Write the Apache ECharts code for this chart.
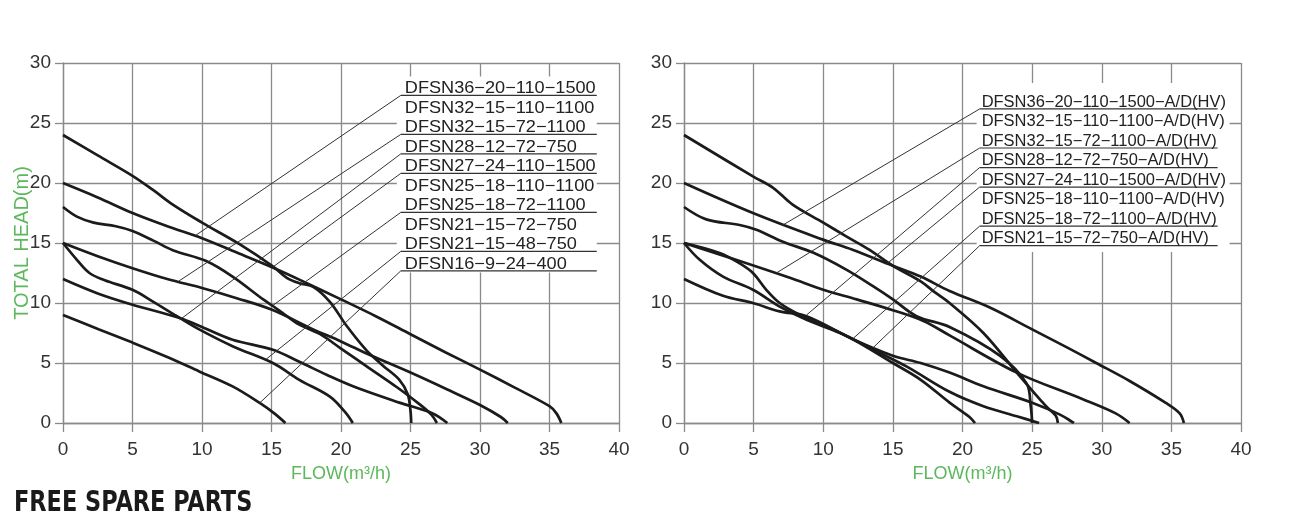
<!DOCTYPE html>
<html>
<head>
<meta charset="utf-8">
<script src="https://cdn.jsdelivr.net/npm/echarts@6/dist/echarts.min.js"></script>
<style>
html, body { margin: 0; padding: 0; background: #fff; }
#main { width: 1301px; height: 515px; }
</style>
</head>
<body>
<div id="main"></div>
<script>
// axis ticks
var flowTicks = [0, 40, 5];
var headTicks = [0, 30, 5];

// left chart curves: [flow, head]
var left36 = [[0,20],[2.5,18.8],[5,17.5],[7.5,16.4],[10,15.4],[12.5,14.2],[15,13.0],[17,11.95],[20,10.3],[22.5,8.9],[25,7.4],[27.5,5.9],[30,4.45],[32.5,2.95],[35,1.4],[35.5,0.8],[35.85,0]];
var left27 = [[0,24],[2.5,22.3],[5,20.6],[6.5,19.4],[7.9,18.2],[10,16.7],[12.7,14.9],[15.1,13.05],[16.1,12.1],[17,11.65],[18,11.35],[19.2,10.1],[20.4,8.1],[21.8,6.1],[23,4.8],[24.2,3.6],[24.8,2.4],[25,1],[25.05,0]];
var left25 = [[0,18],[1,17.2],[2.2,16.7],[3.8,16.4],[5,16],[6.5,15.2],[7.9,14.4],[10.3,13.5],[12.2,12.2],[14.4,10.3],[15.1,9.75],[16,9.0],[17,8.2],[18.5,7.4],[20,6.2],[22,4.6],[24,3.0],[25.5,1.7],[26.5,0.7],[26.9,0]];
var left32 = [[0,15],[2.5,13.9],[5,12.9],[7.5,12.0],[10,11.25],[12.5,10.4],[15,9.45],[18,7.8],[20,6.8],[22,5.7],[25,4.2],[28,2.6],[30,1.5],[31.5,0.5],[32,0]];
var left28 = [[0,12],[2.5,10.8],[5,9.86],[8.4,8.75],[10,8.0],[12.2,6.94],[15.1,6.1],[17,5.1],[19,4.0],[21,3.0],[24.2,1.7],[26.6,0.8],[27.65,0]];
var left21 = [[0,15],[1,13.6],[1.9,12.5],[3,11.9],[5,11.1],[6.5,10.1],[8.2,8.9],[9.8,7.8],[12.2,6.4],[15.1,5.0],[17,3.6],[19.2,2.2],[20.3,0.9],[20.85,0]];
var left16 = [[0,9],[2.6,7.8],[5,6.7],[7.5,5.5],[9.8,4.3],[12.2,3.05],[14.15,1.67],[15.2,0.8],[16,0]];

// right chart curves
var right36 = [[0,20],[4.95,17.5],[9.98,15.28],[12.1,14.44],[15,13.1],[17,12.2],[19.07,11.0],[22,9.6],[25,7.8],[27.5,6.3],[29.6,5.0],[32,3.5],[34.6,1.67],[35.6,0.8],[35.9,0]];
var right27 = [[0,24],[4.95,20.55],[6.4,19.6],[7.8,18.2],[10,16.7],[11.65,15.55],[13.3,14.44],[15,13.1],[17,11.8],[18,10.9],[19.07,10],[21.5,7.5],[23.9,4.2],[26,1.4],[26.7,0.6],[26.85,0]];
var right25 = [[0,18],[1.6,16.97],[4.0,16.5],[5.2,16.1],[7.1,15.1],[9.26,14.2],[11.65,12.78],[13.57,11.4],[15,10.3],[16.7,8.9],[19.07,8.0],[22.7,5.6],[24.6,3.3],[24.9,1.4],[25,0]];
var right32 = [[0,15],[4,13.5],[7.6,12.1],[10,11.1],[12.4,10.3],[15,9.4],[17.2,8.5],[19.07,7.3],[23.9,4.2],[28.6,2.0],[31,0.8],[32,0]];
var right28 = [[0,12],[2.8,10.6],[4.95,10.0],[6.87,9.3],[8.8,8.9],[12.1,7.0],[15,5.6],[17,5.0],[19.07,4.2],[21.5,3.06],[25.05,1.67],[27,0.7],[28,0]];
var right25b = [[0,15],[1.13,13.6],[2.8,12.2],[4.95,11.1],[6.87,9.7],[8.8,8.6],[11.2,7.5],[13.6,6.1],[16,4.7],[19.07,2.6],[21.5,1.4],[23.9,0.56],[25.5,0]];
var right21 = [[0,15],[2.56,14.17],[4,13.3],[4.95,12.5],[5.91,11.1],[6.87,10.0],[8.3,9.03],[10.2,8.06],[12.1,7.0],[15,5.0],[17,3.6],[19.07,1.7],[20.5,0.5],[20.9,0]];

// model labels and where their leader line meets a curve (null = no leader)
var leftLabels = ['DFSN36\u221220\u2212110\u22121500','DFSN32\u221215\u2212110\u22121100','DFSN32\u221215\u221272\u22121100','DFSN28\u221212\u221272\u2212750','DFSN27\u221224\u2212110\u22121500','DFSN25\u221218\u2212110\u22121100','DFSN25\u221218\u221272\u22121100','DFSN21\u221215\u221272\u2212750','DFSN21\u221215\u221248\u2212750','DFSN16\u22129\u221224\u2212400'];
var leftTargets = [[9.5,15.6], null, [8.3,11.8], [8.4,8.6], [15.1,13.0], null, [15.1,9.8], null, [14.6,5.3], [14.15,1.67]];
var rightLabels = ['DFSN36\u221220\u2212110\u22121500\u2212A/D(HV)','DFSN32\u221215\u2212110\u22121100\u2212A/D(HV)','DFSN32\u221215\u221272\u22121100\u2212A/D(HV)','DFSN28\u221212\u221272\u2212750\u2212A/D(HV)','DFSN27\u221224\u2212110\u22121500\u2212A/D(HV)','DFSN25\u221218\u2212110\u22121100\u2212A/D(HV)','DFSN25\u221218\u221272\u22121100\u2212A/D(HV)','DFSN21\u221215\u221272\u2212750\u2212A/D(HV)'];
var rightTargets = [[7.1,16.5], null, [6.63,12.5], [8.8,9.0], [14.6,13.3], null, [12.1,7.0], [13.6,6.3]];

var leftCurves = [left36, left27, left25, left32, left28, left21, left16];
var rightCurves = [right36, right27, right25, right32, right28, right25b, right21];

var GREEN = '#5cb85c';
var GRIDC = '#8a8a8a';
var FONT = '"Liberation Sans", Arial, sans-serif';

function xAxisFor(gi) {
  return {
    type: 'value', gridIndex: gi, min: flowTicks[0], max: flowTicks[1], interval: flowTicks[2],
    name: 'FLOW(m\u00b3/h)', nameLocation: 'middle', nameGap: 42,
    nameTextStyle: { color: GREEN, fontSize: 18, fontFamily: FONT },
    axisLine: { show: true, lineStyle: { color: GRIDC, width: 1.3 } },
    axisTick: { show: true, length: 9, lineStyle: { color: GRIDC, width: 1.3 } },
    splitLine: { show: true, lineStyle: { color: GRIDC, width: 1.3 } },
    axisLabel: { color: '#333', fontSize: 19, fontFamily: FONT, margin: 17 }
  };
}
function yAxisFor(gi, withName) {
  return {
    type: 'value', gridIndex: gi, min: headTicks[0], max: headTicks[1], interval: headTicks[2],
    name: withName ? 'TOTAL HEAD(m)' : '', nameLocation: 'middle', nameGap: 31,
    nameMoveOverlap: false,
    nameTextStyle: { color: GREEN, fontSize: 20, fontFamily: FONT },
    axisLine: { show: true, lineStyle: { color: GRIDC, width: 1.3 } },
    axisTick: { show: true, length: 8, lineStyle: { color: GRIDC, width: 1.3 } },
    splitLine: { show: true, lineStyle: { color: GRIDC, width: 1.3 } },
    axisLabel: { color: '#333', fontSize: 19, fontFamily: FONT, margin: 12 }
  };
}

var series = [];
leftCurves.forEach(function (c) {
  series.push({ type: 'line', xAxisIndex: 0, yAxisIndex: 0, data: c, smooth: 0.35, symbol: 'none',
    lineStyle: { color: '#1b1b1b', width: 2.7 }, z: 3 });
});
rightCurves.forEach(function (c) {
  series.push({ type: 'line', xAxisIndex: 1, yAxisIndex: 1, data: c, smooth: 0.35, symbol: 'none',
    lineStyle: { color: '#1b1b1b', width: 2.7 }, z: 3 });
});

var option = {
  backgroundColor: '#fff',
  animation: false,
  grid: [
    { left: 63, top: 63, width: 556, height: 360 },
    { left: 684, top: 63, width: 557, height: 360 }
  ],
  xAxis: [xAxisFor(0), xAxisFor(1)],
  yAxis: [yAxisFor(0, true), yAxisFor(1, false)],
  series: series
};

var chart = echarts.init(document.getElementById('main'));
chart.setOption(option);

// label block: anchor is the left end of the first underline, in data units
function labelBlock(gi, labels, targets, cfg) {
  var els = [];
  var a = chart.convertToPixel({ gridIndex: gi }, cfg.anchor);
  els.push({ type: 'rect', z: 10,
    shape: { x: a[0] + cfg.box[0], y: a[1] + cfg.box[1], width: cfg.box[2], height: cfg.box[3] },
    style: { fill: '#fff' } });
  labels.forEach(function (name, i) {
    var uy = a[1] + i * cfg.step;
    els.push({ type: 'text', z: 12, x: a[0] + cfg.textDx, y: uy - 1 - 0.35 * cfg.fontSize,
      scaleX: cfg.scaleX,
      style: { text: name, x: 0, y: 0, font: cfg.fontSize + 'px ' + FONT, fill: '#222',
        textAlign: 'left', textVerticalAlign: 'middle' } });
    var t = targets[i];
    if (t) {
      var p = chart.convertToPixel({ gridIndex: gi }, t);
      els.push({ type: 'line', z: 11,
        shape: { x1: a[0], y1: uy, x2: a[0] + cfg.lineLen, y2: uy },
        style: { stroke: '#333', lineWidth: 1.2 } });
      els.push({ type: 'line', z: 11,
        shape: { x1: a[0], y1: uy, x2: p[0], y2: p[1] },
        style: { stroke: '#333', lineWidth: 1 } });
    }
  });
  return els;
}

var graphics = []
  .concat(labelBlock(0, leftLabels, leftTargets, {
    anchor: [24.3, 27.3], step: 19.5, lineLen: 196, textDx: 4,
    box: [-4, -19, 200, 196], fontSize: 16.5, scaleX: 1.1
  }))
  .concat(labelBlock(1, rightLabels, rightTargets, {
    anchor: [21.23, 26.17], step: 19.53, lineLen: 238, textDx: 2,
    box: [-3, -26, 253, 169], fontSize: 16, scaleX: 1.03
  }));
graphics.push({ type: 'text', z: 12, x: 14, y: 517.5, scaleX: 0.86,
  style: { text: 'FREE SPARE PARTS', x: 0, y: 0, font: 'bold 29px "DejaVu Sans Condensed", sans-serif',
    fill: '#1a1a1a', textAlign: 'left', textVerticalAlign: 'bottom' } });

chart.setOption({ graphic: graphics });
</script>
</body>
</html>
